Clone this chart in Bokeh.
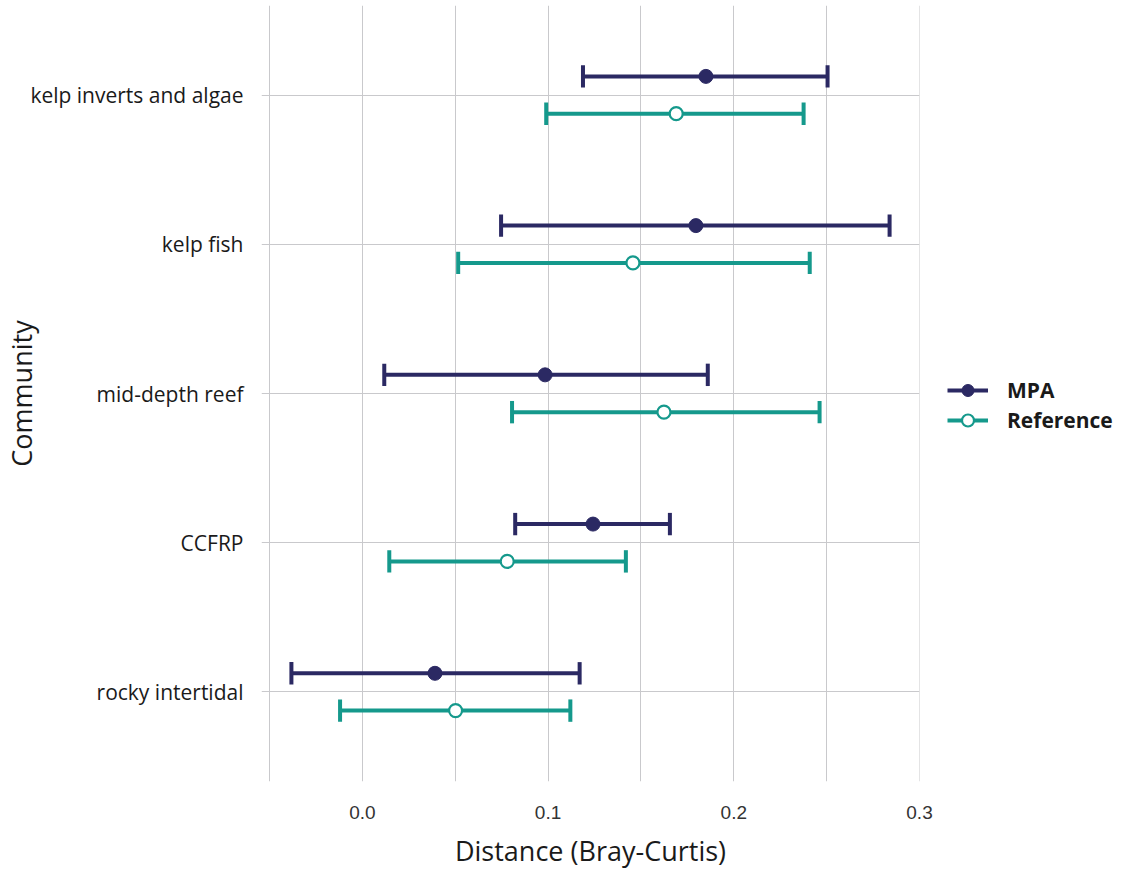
from bokeh.plotting import figure
from bokeh.models import ColumnDataSource, FixedTicker, Legend, LegendItem
from bokeh.embed import file_html
from bokeh.resources import INLINE

communities = ["kelp inverts and algae", "kelp fish", "mid-depth reef", "CCFRP", "rocky intertidal"]
mpa_mean = [0.185, 0.1796, 0.0984, 0.1242, 0.0391]
mpa_low = [0.1188, 0.0747, 0.0118, 0.0823, -0.0382]
mpa_high = [0.2505, 0.2839, 0.186, 0.1656, 0.117]
ref_mean = [0.169, 0.1457, 0.1624, 0.078, 0.0502]
ref_low = [0.099, 0.0516, 0.0806, 0.0145, -0.012]
ref_high = [0.2376, 0.2409, 0.2462, 0.1419, 0.112]
x_ticks = [0.0, 0.1, 0.2, 0.3]
grid_ticks = [-0.05, 0.0, 0.05, 0.1, 0.15, 0.2, 0.25, 0.3]

MPA_COL = "#2b2963"
REF_COL = "#15998c"
FONT = "Open Sans"

n = len(communities)
ypos = [n - i for i in range(n)]
dodge = 0.125
cap = 0.075

lo = min(mpa_low + ref_low)
hi = max(mpa_high + ref_high)
pad = (hi - lo) * 0.05

p = figure(output_backend="svg", toolbar_location=None,
           x_range=(lo - pad, hi + pad), y_range=(0.4, n + 0.6),
           min_border_left=258, min_border_right=207, min_border_top=5, min_border_bottom=0,
           frame_width=658, frame_height=776)
p.outline_line_color = None
p.background_fill_color = "white"

def series(mean, low, high, offset, color, open_marker):
    y = [v + offset for v in ypos]
    src = ColumnDataSource(dict(y=y, m=mean, lo=low, hi=high,
                                yc0=[v - cap for v in y], yc1=[v + cap for v in y]))
    main = p.segment(x0="lo", x1="hi", y0="y", y1="y", source=src, line_color=color, line_width=4)
    p.segment(x0="lo", x1="lo", y0="yc0", y1="yc1", source=src, line_color=color, line_width=4)
    p.segment(x0="hi", x1="hi", y0="yc0", y1="yc1", source=src, line_color=color, line_width=4)
    if open_marker:
        pt = p.scatter(x="m", y="y", source=src, size=13, fill_color="white", line_color=color, line_width=2.2)
    else:
        pt = p.scatter(x="m", y="y", source=src, size=14, fill_color=color, line_color=color, line_width=1)
    return main, pt

m1, m2 = series(mpa_mean, mpa_low, mpa_high, dodge, MPA_COL, False)
r1, r2 = series(ref_mean, ref_low, ref_high, -dodge, REF_COL, True)

# grids
p.xgrid.ticker = FixedTicker(ticks=grid_ticks)
p.xgrid.grid_line_color = "#c9c9cc"
p.xgrid.grid_line_width = 1
p.ygrid.ticker = FixedTicker(ticks=ypos)
p.ygrid.grid_line_color = "#c9c9cc"
p.ygrid.grid_line_width = 1

# x axis
p.xaxis.ticker = FixedTicker(ticks=x_ticks)
p.xaxis.major_label_overrides = {t: f"{t:.1f}" for t in x_ticks}
p.xaxis.axis_label = "Distance (Bray-Curtis)"
p.xaxis.axis_label_text_font = FONT
p.xaxis.axis_label_text_font_size = "27px"
p.xaxis.axis_label_text_font_style = "normal"
p.xaxis.axis_label_text_color = "#1a1a1a"
p.xaxis.axis_label_standoff = 10
p.xaxis.major_label_text_font = "Liberation Sans"
p.xaxis.major_label_text_font_size = "19px"
p.xaxis.major_label_text_color = "#333333"
p.xaxis.major_label_standoff = 24

# y axis
p.yaxis.ticker = FixedTicker(ticks=ypos)
p.yaxis.major_label_overrides = {y: c for y, c in zip(ypos, communities)}
p.yaxis.axis_label = "Community"
p.yaxis.axis_label_text_font = FONT
p.yaxis.axis_label_text_font_size = "27px"
p.yaxis.axis_label_text_font_style = "normal"
p.yaxis.axis_label_text_color = "#1a1a1a"
p.yaxis.axis_label_standoff = -13
p.yaxis.major_label_text_font = FONT
p.yaxis.major_label_text_font_size = "21px"
p.yaxis.major_label_text_color = "#1a1a1a"
p.yaxis.major_label_standoff = 18

for ax in (p.xaxis, p.yaxis):
    ax.axis_line_color = None
    ax.major_tick_line_color = None
    ax.minor_tick_line_color = None
    ax.major_tick_out = 0
    ax.major_tick_in = 0

legend = Legend(items=[LegendItem(label="MPA", renderers=[m1, m2]),
                       LegendItem(label="Reference", renderers=[r1, r2])],
                location=(28, 346), orientation="vertical",
                label_text_font=FONT, label_text_font_size="21px", label_text_font_style="bold",
                label_text_color="#1a1a1a", label_height=20,
                glyph_width=41, glyph_height=30, label_standoff=19, spacing=0,
                padding=0, margin=0, border_line_color=None, background_fill_alpha=0)
p.add_layout(legend, "right")

open("out.html", "w").write(file_html(p, INLINE))
